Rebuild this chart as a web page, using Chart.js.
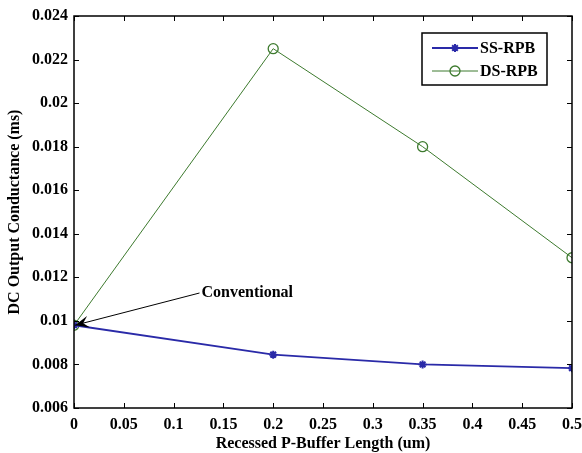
<!DOCTYPE html>
<html>
<head>
<meta charset="utf-8">
<script src="https://cdn.jsdelivr.net/npm/chart.js@4.4.0/dist/chart.umd.min.js"></script>
<style>
  html, body { margin: 0; padding: 0; background: #fff; }
</style>
</head>
<body>
<canvas id="chart" width="582" height="453"></canvas>
<script>
// data
const bufferLength = [0, 0.2, 0.35, 0.5];
const ssRpb = [0.0098, 0.00845, 0.0080, 0.00783];
const dsRpb = [0.0098, 0.0225, 0.0180, 0.0129];

const xTicks = [0, 0.05, 0.1, 0.15, 0.2, 0.25, 0.3, 0.35, 0.4, 0.45, 0.5];
const xTickLabels = ['0', '0.05', '0.1', '0.15', '0.2', '0.25', '0.3', '0.35', '0.4', '0.45', '0.5'];
const yTicks = [0.006, 0.008, 0.01, 0.012, 0.014, 0.016, 0.018, 0.02, 0.022, 0.024];
const yTickLabels = ['0.006', '0.008', '0.01', '0.012', '0.014', '0.016', '0.018', '0.02', '0.022', '0.024'];

// "Conventional" note: text anchor and arrow tip, in data units
const noteText = 'Conventional';
const noteAt = [0.128, 0.01128];
const noteTip = [0, 0.0098];

const SERIF = "'Liberation Serif', 'DejaVu Serif', serif";
const BLUE = '#2a2aa8';
const GREEN = '#3d7a2e';

// box round the plot plus inward ticks on all four sides
const frame = {
    id: 'frame',
    afterDatasetsDraw(chart) {
        const { ctx, chartArea: a, scales } = chart;
        const len = 5;
        ctx.save();
        ctx.strokeStyle = '#000';
        ctx.lineWidth = 1;
        ctx.beginPath();
        xTicks.forEach(v => {
            const x = Math.round(scales.x.getPixelForValue(v)) + 0.5;
            ctx.moveTo(x, a.bottom); ctx.lineTo(x, a.bottom - len);
            ctx.moveTo(x, a.top); ctx.lineTo(x, a.top + len);
        });
        yTicks.forEach(v => {
            const y = Math.round(scales.y.getPixelForValue(v)) + 0.5;
            ctx.moveTo(a.left, y); ctx.lineTo(a.left + len, y);
            ctx.moveTo(a.right, y); ctx.lineTo(a.right - len, y);
        });
        ctx.stroke();
        ctx.lineWidth = 1.5;
        ctx.strokeRect(a.left, a.top, a.right - a.left, a.bottom - a.top);
        ctx.restore();
    }
};

// arrow + label pointing at the shared first point
const note = {
    id: 'note',
    afterDatasetsDraw(chart) {
        const { ctx, scales } = chart;
        const tx = scales.x.getPixelForValue(noteAt[0]);
        const ty = scales.y.getPixelForValue(noteAt[1]);
        const px = scales.x.getPixelForValue(noteTip[0]) + 1;
        const py = scales.y.getPixelForValue(noteTip[1]);
        ctx.save();
        ctx.strokeStyle = '#000';
        ctx.lineWidth = 1;
        ctx.beginPath();
        ctx.moveTo(tx - 2, ty);
        ctx.lineTo(px, py);
        ctx.stroke();
        const ang = Math.atan2(ty - py, tx - px);
        const hl = 14, hw = 6;
        ctx.fillStyle = '#000';
        ctx.beginPath();
        ctx.moveTo(px, py);
        ctx.lineTo(px + hl * Math.cos(ang) - hw * Math.sin(ang), py + hl * Math.sin(ang) + hw * Math.cos(ang));
        ctx.lineTo(px + hl * 0.6 * Math.cos(ang), py + hl * 0.6 * Math.sin(ang));
        ctx.lineTo(px + hl * Math.cos(ang) + hw * Math.sin(ang), py + hl * Math.sin(ang) - hw * Math.cos(ang));
        ctx.closePath();
        ctx.fill();
        ctx.font = 'bold 16px ' + SERIF;
        ctx.textAlign = 'left';
        ctx.textBaseline = 'middle';
        ctx.fillText(noteText, tx, ty);
        ctx.restore();
    }
};

// matlab style legend box in the upper right corner
const boxLegend = {
    id: 'boxLegend',
    afterDraw(chart) {
        const { ctx, chartArea: a } = chart;
        const left = a.right - 150, top = a.top + 17, w = 125, h = 52;
        ctx.save();
        ctx.fillStyle = '#fff';
        ctx.fillRect(left, top, w, h);
        ctx.strokeStyle = '#000';
        ctx.lineWidth = 1.5;
        ctx.strokeRect(left, top, w, h);
        ctx.font = 'bold 16px ' + SERIF;
        ctx.textBaseline = 'middle';
        chart.data.datasets.forEach((ds, i) => {
            const y = top + 15 + i * 23;
            ctx.strokeStyle = ds.borderColor;
            ctx.lineWidth = ds.borderWidth;
            ctx.beginPath();
            ctx.moveTo(left + 10, y);
            ctx.lineTo(left + 56, y);
            ctx.stroke();
            ctx.fillStyle = ds.pointBackgroundColor;
            ctx.lineWidth = ds.pointBorderWidth;
            Chart.helpers.drawPoint(ctx, {
                pointStyle: ds.pointStyle,
                radius: ds.pointRadius,
                borderWidth: ds.pointBorderWidth
            }, left + 33, y);
            ctx.fillStyle = '#000';
            ctx.fillText(ds.label, left + 58, y + 1);
        });
        ctx.restore();
    }
};

const tickFont = { family: SERIF, size: 16, weight: 'bold' };

new Chart(document.getElementById('chart'), {
    type: 'line',
    data: {
        datasets: [
            {
                label: 'SS-RPB',
                data: bufferLength.map((x, i) => ({ x, y: ssRpb[i] })),
                borderColor: BLUE,
                backgroundColor: BLUE,
                borderWidth: 1.8,
                pointStyle: 'star',
                pointRadius: 4,
                pointBorderWidth: 2,
                pointBorderColor: BLUE,
                pointBackgroundColor: BLUE,
                tension: 0
            },
            {
                label: 'DS-RPB',
                data: bufferLength.map((x, i) => ({ x, y: dsRpb[i] })),
                borderColor: GREEN,
                backgroundColor: 'rgba(0,0,0,0)',
                borderWidth: 1,
                pointStyle: 'circle',
                pointRadius: 5,
                pointBorderWidth: 1.3,
                pointBorderColor: GREEN,
                pointBackgroundColor: 'rgba(0,0,0,0)',
                tension: 0
            }
        ]
    },
    options: {
        responsive: false,
        animation: false,
        layout: { padding: { top: 16, right: 10, left: 0, bottom: 0 } },
        plugins: {
            legend: { display: false },
            tooltip: { enabled: false }
        },
        scales: {
            x: {
                type: 'linear',
                min: 0,
                max: 0.5,
                afterBuildTicks: s => { s.ticks = xTicks.map(value => ({ value })); },
                afterFit: s => { s.height = 45; s.paddingLeft = 0; s.paddingRight = 0; },
                grid: { display: false, drawTicks: false },
                border: { display: false },
                ticks: {
                    color: '#000',
                    font: tickFont,
                    padding: 7,
                    maxRotation: 0,
                    callback: v => xTickLabels[xTicks.indexOf(v)]
                },
                title: {
                    display: true,
                    text: 'Recessed P-Buffer Length (um)',
                    color: '#000',
                    font: tickFont,
                    padding: { top: 0, bottom: 0 }
                }
            },
            y: {
                type: 'linear',
                min: 0.006,
                max: 0.024,
                afterBuildTicks: s => { s.ticks = yTicks.map(value => ({ value })); },
                afterFit: s => { s.width = 74; s.paddingTop = 0; s.paddingBottom = 0; },
                grid: { display: false, drawTicks: false },
                border: { display: false },
                ticks: {
                    color: '#000',
                    font: tickFont,
                    padding: 6,
                    callback: v => yTickLabels[yTicks.indexOf(v)]
                },
                title: {
                    display: true,
                    text: 'DC Output Conductance (ms)',
                    color: '#000',
                    font: tickFont,
                    padding: { top: 5, bottom: 0 }
                }
            }
        }
    },
    plugins: [frame, note, boxLegend]
});
</script>
</body>
</html>
